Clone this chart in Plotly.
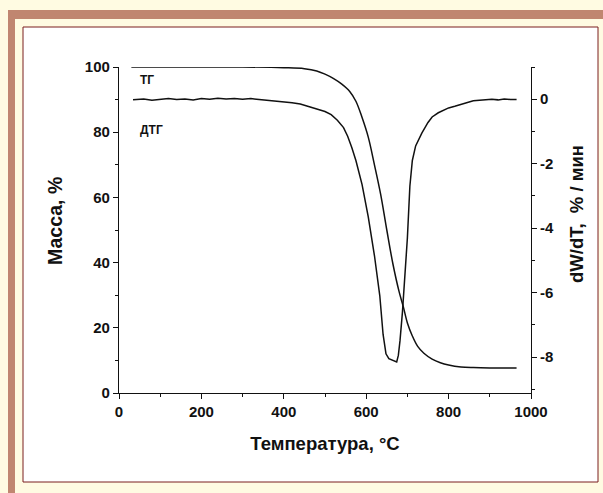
import plotly.graph_objects as go

# ---------------- data ----------------
temp_tg = [30, 100, 200, 300, 400, 450, 480, 500, 520, 540, 560, 575, 590, 605, 620, 635,
           650, 665, 680, 690, 700, 712, 725, 740, 760, 780, 800, 830, 860, 900, 965]
mass_tg = [100, 100, 100, 100, 99.8, 99.5, 98.8, 97.8, 96.5, 94.8, 92.5, 89.5, 84.5, 78.5, 70, 61,
           50, 39.5, 31, 26.5, 21.5, 17.5, 14.3, 12.2, 10.4, 9.3, 8.6, 8.0, 7.8, 7.7, 7.7]

temp_dtg = [34, 60, 80, 100, 120, 140, 160, 180, 200, 220, 240, 260, 280, 300, 320, 340, 360,
            380, 400, 420, 440, 460, 480, 500, 515, 530, 545, 555, 565, 575, 590, 605, 620,
            633, 641, 648, 655, 662, 668, 674, 678, 682, 688, 694, 700, 706, 712, 720, 735,
            750, 760, 775, 790, 800, 815, 830, 845, 860, 875, 890, 905, 920, 935, 950, 965]
dtg = [-0.02, 0.01, -0.03, 0.0, 0.02, -0.01, 0.01, -0.02, 0.02, 0.0, 0.03, 0.01, 0.02, 0.0,
       0.02, -0.01, -0.03, -0.06, -0.08, -0.11, -0.15, -0.22, -0.29, -0.38, -0.48, -0.65,
       -0.88, -1.15, -1.5, -1.9, -2.65, -3.65, -4.85, -6.1, -7.3, -7.9, -8.05, -8.08, -8.1,
       -8.15, -7.95, -7.5, -6.6, -5.6, -4.3, -2.7, -1.9, -1.45, -1.05, -0.72, -0.55, -0.42,
       -0.32, -0.27, -0.22, -0.17, -0.1, -0.05, -0.03, -0.01, 0.0, -0.02, 0.01, -0.01, -0.01]

x_ticks = [0, 200, 400, 600, 800, 1000]
y_ticks = [0, 20, 40, 60, 80, 100]
y2_ticks = [0, -2, -4, -6, -8]
y2_labels = ["0", "-2", "-4", "-6", "-8"]

curve_labels = ["ТГ", "ДТГ"]
curve_label_x = [46, 46]
curve_label_y = [96, 80.7]

x_title = "Температура, °C"
y_title = "Масса, %"
y2_title = "dW/dT,\u00a0 % / мин"

# ---------------- layout geometry ----------------
W, H = 603, 493
L, R, T, B = 119, 72, 67, 100
PW, PH = W - L - R, H - T - B


def px(x):
    return (x - L) / PW


def py(y):
    return (H - B - y) / PH


FONT = "Liberation Sans, Arial, sans-serif"
INK = "#111111"
TITLE_FONT = dict(family=FONT, size=18.5, color=INK, weight="bold")

fig = go.Figure()
fig.add_trace(go.Scatter(x=temp_tg, y=mass_tg, mode="lines", line=dict(color=INK, width=1.5),
                         showlegend=False, name="ТГ", line_shape="spline"))
fig.add_trace(go.Scatter(x=temp_dtg, y=dtg, mode="lines", line=dict(color=INK, width=1.5),
                         showlegend=False, name="ДТГ", yaxis="y2"))

for txt, xx, yy in zip(curve_labels, curve_label_x, curve_label_y):
    fig.add_annotation(x=xx, y=yy, text=txt, showarrow=False, xanchor="left", yanchor="middle",
                       font=dict(family=FONT, size=12, color=INK, weight="bold"))

# axis titles for the two vertical axes (placed like the original)
fig.add_annotation(xref="paper", yref="paper", x=px(55), y=py(221), text=y_title,
                   textangle=-90, showarrow=False, xanchor="center", yanchor="middle",
                   font=dict(family=FONT, size=19.5, color=INK, weight="bold"))
fig.add_annotation(xref="paper", yref="paper", x=px(577), y=py(214), text=y2_title,
                   textangle=-90, showarrow=False, xanchor="center", yanchor="middle",
                   font=TITLE_FONT)

shapes = [
    dict(type="rect", xref="paper", yref="paper", x0=px(8), x1=px(615), y0=py(10), y1=py(505),
         fillcolor="#C08670", line=dict(width=0), layer="below"),
    dict(type="rect", xref="paper", yref="paper", x0=px(15), x1=px(615), y0=py(19), y1=py(505),
         fillcolor="#FFFBE2", line=dict(width=0), layer="below"),
    dict(type="rect", xref="paper", yref="paper", x0=px(23), x1=px(598), y0=py(27), y1=py(482),
         fillcolor="white", line=dict(color="#7A1E1E", width=1), layer="below"),
]

axis_common = dict(showline=True, linecolor=INK, linewidth=1.2, ticks="outside", tickcolor=INK,
                   tickwidth=1.2, ticklen=5, showgrid=False, zeroline=False,
                   tickfont=dict(family=FONT, size=15, color=INK, weight="bold"))

fig.update_layout(
    width=W, height=H,
    margin=dict(l=L, r=R, t=T, b=B, autoexpand=False),
    paper_bgcolor="#FFFBE2",
    plot_bgcolor="rgba(0,0,0,0)",
    shapes=shapes,
    xaxis=dict(range=[0, 1000], tickvals=x_ticks, **axis_common,
               minor=dict(dtick=100, tick0=0, ticks="outside", ticklen=3, tickcolor=INK),
               title=dict(text=x_title, standoff=17, font=TITLE_FONT)),
    yaxis=dict(range=[0, 100], tickvals=y_ticks, **axis_common,
               minor=dict(dtick=10, tick0=0, ticks="outside", ticklen=3, tickcolor=INK)),
    yaxis2=dict(range=[-9.116, 1.0], overlaying="y", side="right", tickvals=y2_ticks,
                ticktext=y2_labels, **axis_common,
                minor=dict(dtick=1, tick0=0, ticks="outside", ticklen=3, tickcolor=INK)),
)

fig.write_html("out.html", config={"displayModeBar": False},
               post_script="document.body.style.margin='0px';")
